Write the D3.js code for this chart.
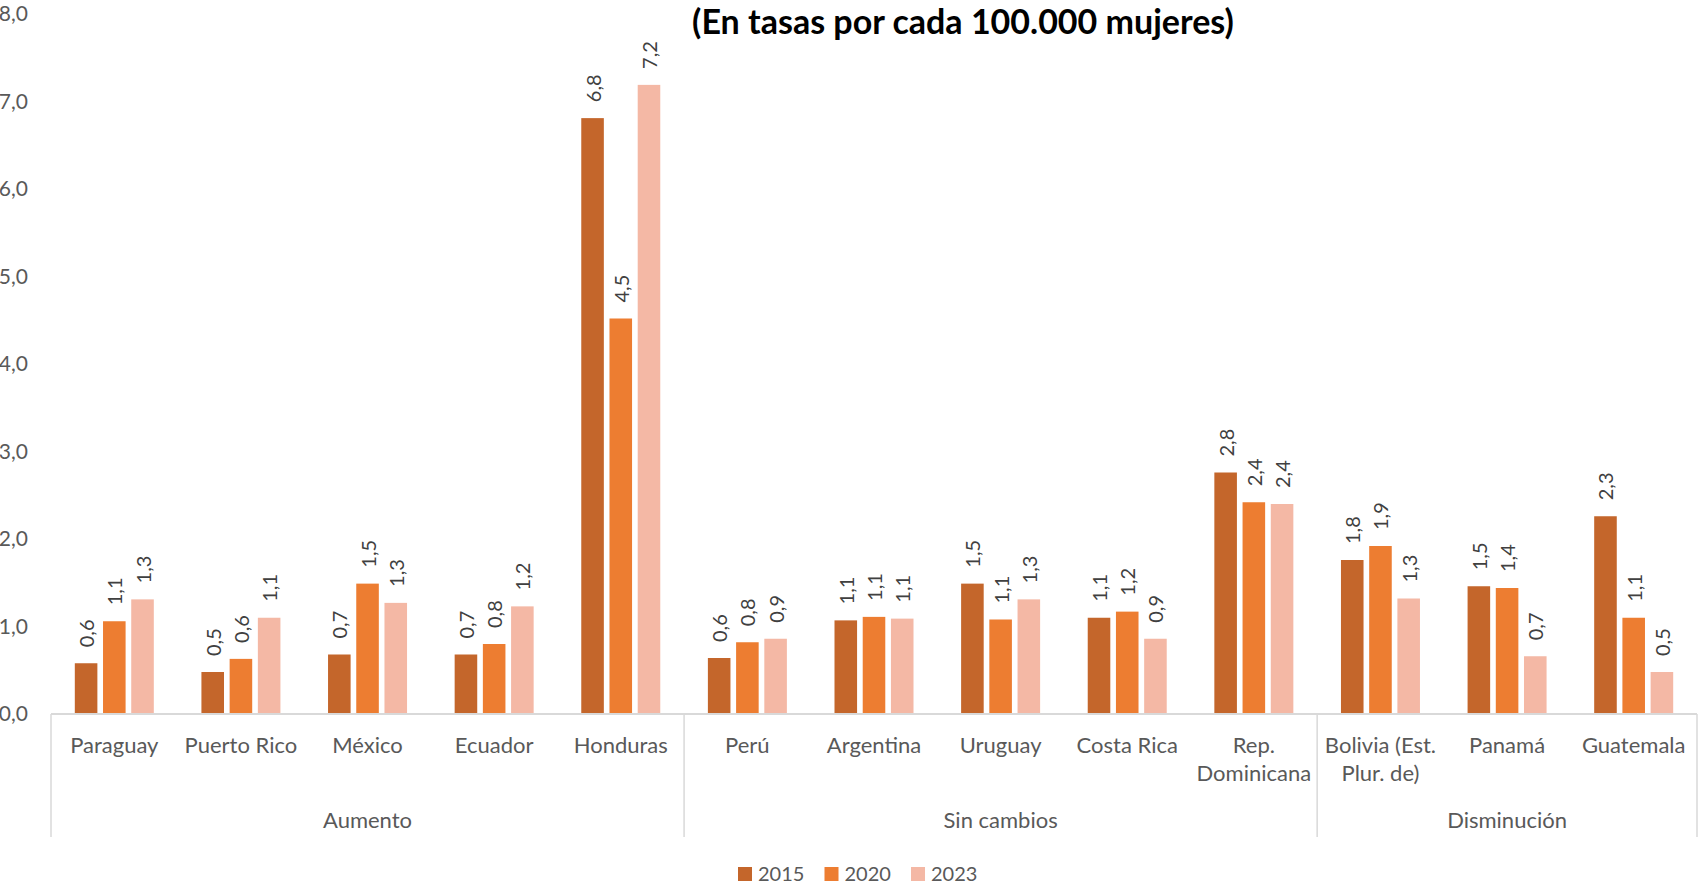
<!DOCTYPE html>
<html>
<head>
<meta charset="utf-8">
<script src="https://cdn.jsdelivr.net/npm/d3@7"></script>
<style>
  body { margin: 0; background: #fff; }
  svg { display: block; font-family: Lato, "Open Sans", sans-serif; }
</style>
</head>
<body>
<div id="chart"></div>
<script>
const title = "(En tasas por cada 100.000 mujeres)";
const categories = [
  "Paraguay", "Puerto Rico", "México", "Ecuador", "Honduras",
  "Perú", "Argentina", "Uruguay", "Costa Rica", "Rep.\nDominicana",
  "Bolivia (Est.\nPlur. de)", "Panamá", "Guatemala"
];
const groups = ["Aumento", "Sin cambios", "Disminución"];
const groupOf = [0, 0, 0, 0, 0, 1, 1, 1, 1, 1, 2, 2, 2];
const years = ["2015", "2020", "2023"];
const v2015 = [0.58, 0.48, 0.68, 0.68, 6.81, 0.64, 1.07, 1.49, 1.10, 2.76, 1.76, 1.46, 2.26];
const v2020 = [1.06, 0.63, 1.49, 0.80, 4.52, 0.82, 1.11, 1.08, 1.17, 2.42, 1.92, 1.44, 1.10];
const v2023 = [1.31, 1.10, 1.27, 1.23, 7.19, 0.86, 1.09, 1.31, 0.86, 2.40, 1.32, 0.66, 0.48];
const yTicks = [0, 1, 2, 3, 4, 5, 6, 7, 8];
const colors = ["#C4662B", "#ED7D31", "#F4B8A5"];

const width = 1704;
const height = 886;
const plotLeft = 51, plotRight = 1697, plotTop = 14, base = 714;

const series = [v2015, v2020, v2023];
const fmt = (v) => v.toFixed(1).replace(".", ",");

const svg = d3.select("#chart")
  .append("svg")
  .attr("width", width)
  .attr("height", height);

const x0 = d3.scaleBand()
  .domain(d3.range(categories.length))
  .range([plotLeft, plotRight])
  .padding(0);

const groupW = 79;
const x1 = d3.scaleBand()
  .domain(d3.range(years.length))
  .range([0, groupW])
  .paddingInner(0.2)
  .paddingOuter(0);

const y = d3.scaleLinear()
  .domain([0, 8])
  .range([base, plotTop]);

// title
svg.append("text")
  .attr("x", 963)
  .attr("y", 34)
  .attr("text-anchor", "middle")
  .attr("font-size", 34)
  .attr("font-weight", "bold")
  .attr("fill", "#000")
  .text(title);

// y axis labels
const yAxis = svg.append("g")
  .attr("transform", `translate(${plotLeft},0)`)
  .call(d3.axisLeft(y).tickValues(yTicks).tickSize(0).tickPadding(23)
    .tickFormat((d) => d3.format(".1f")(d).replace(".", ",")));
yAxis.select(".domain").remove();
yAxis.selectAll("text")
  .attr("font-size", 21)
  .attr("font-family", "Lato, sans-serif")
  .attr("fill", "#595959");

// bars
const bars = svg.append("g");
series.forEach((vals, s) => {
  bars.selectAll(".b" + s)
    .data(vals)
    .enter()
    .append("rect")
    .attr("x", (d, i) => x0(i) + (x0.bandwidth() - groupW) / 2 + x1(s))
    .attr("y", (d) => y(d))
    .attr("width", x1.bandwidth())
    .attr("height", (d) => base - y(d))
    .attr("fill", colors[s]);

  bars.selectAll(".l" + s)
    .data(vals)
    .enter()
    .append("text")
    .attr("transform", (d, i) => {
      const cx = x0(i) + (x0.bandwidth() - groupW) / 2 + x1(s) + x1.bandwidth() / 2;
      return `translate(${cx},${y(d) - 16}) rotate(-90)`;
    })
    .attr("dominant-baseline", "central")
    .attr("font-size", 20)
    .attr("fill", "#404040")
    .text((d) => fmt(d));
});

// category axis line
svg.append("line")
  .attr("x1", plotLeft).attr("x2", plotRight)
  .attr("y1", base).attr("y2", base)
  .attr("stroke", "#D9D9D9")
  .attr("stroke-width", 2);

// category labels
const catLabels = svg.append("g");
categories.forEach((c, i) => {
  const t = catLabels.append("text")
    .attr("x", x0(i) + x0.bandwidth() / 2)
    .attr("y", 753)
    .attr("text-anchor", "middle")
    .attr("font-size", 22)
    .attr("fill", "#595959");
  c.split("\n").forEach((line, k) => {
    t.append("tspan")
      .attr("x", x0(i) + x0.bandwidth() / 2)
      .attr("dy", k === 0 ? 0 : 28)
      .text(line);
  });
});

// group separators and labels
const bounds = groups.map((g, gi) => {
  const idx = groupOf.map((v, i) => (v === gi ? i : -1)).filter((i) => i >= 0);
  return [x0(idx[0]), x0(idx[idx.length - 1]) + x0.bandwidth()];
});
const seps = bounds.map((b) => b[0]).concat([plotRight]);
svg.selectAll(".sep")
  .data(seps)
  .enter()
  .append("line")
  .attr("x1", (d) => d).attr("x2", (d) => d)
  .attr("y1", base).attr("y2", 837)
  .attr("stroke", "#D9D9D9")
  .attr("stroke-width", 1.5);

svg.selectAll(".grp")
  .data(groups)
  .enter()
  .append("text")
  .attr("x", (d, i) => (bounds[i][0] + bounds[i][1]) / 2)
  .attr("y", 828)
  .attr("text-anchor", "middle")
  .attr("font-size", 22)
  .attr("fill", "#595959")
  .text((d) => d);

// legend
const legend = svg.append("g").attr("transform", "translate(738,867)");
years.forEach((yr, i) => {
  const g = legend.append("g").attr("transform", `translate(${i * 86.5},0)`);
  g.append("rect")
    .attr("width", 14).attr("height", 14)
    .attr("fill", colors[i]);
  g.append("text")
    .attr("x", 20).attr("y", 14)
    .attr("font-size", 20)
    .attr("fill", "#595959")
    .text(yr);
});
</script>
</body>
</html>
